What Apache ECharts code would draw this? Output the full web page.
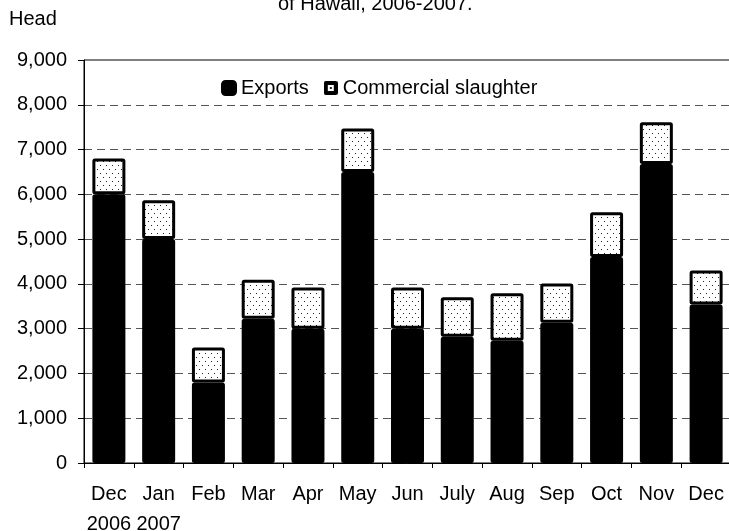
<!DOCTYPE html>
<html>
<head>
<meta charset="utf-8">
<script src="https://cdn.jsdelivr.net/npm/echarts@6/dist/echarts.min.js"></script>
<style>
  html, body { margin: 0; padding: 0; background: #fff; }
  #chart { width: 729px; height: 531px; }
</style>
</head>
<body>
<div id="chart"></div>
<script>
// months Dec 2006 .. Dec 2007
const months = ['Dec\n2006', 'Jan\n2007', 'Feb', 'Mar', 'Apr', 'May', 'Jun', 'July', 'Aug', 'Sep', 'Oct', 'Nov', 'Dec'];
// head of cattle
const exportsHead = [6000, 5000, 1800, 3220, 3000, 6500, 3000, 2820, 2730, 3130, 4600, 6680, 3540];
const slaughterHead = [800, 870, 780, 870, 920, 970, 920, 880, 1060, 880, 1000, 930, 760];
const yTicks = [0, 1000, 2000, 3000, 4000, 5000, 6000, 7000, 8000, 9000];

const FONT = 'Liberation Sans';

// little dotted fill like the old excel pattern
function dotPattern() {
    const c = document.createElement('canvas');
    c.width = 6;
    c.height = 8;
    const ctx = c.getContext('2d');
    ctx.fillStyle = '#fff';
    ctx.fillRect(0, 0, 6, 8);
    ctx.fillStyle = '#222';
    ctx.fillRect(1, 1, 1, 1);
    ctx.fillRect(4, 5, 1, 1);
    return c;
}

// legend swatch: thick black frame, tiny dotted middle
function slaughterIcon() {
    const c = document.createElement('canvas');
    c.width = 14;
    c.height = 14;
    const ctx = c.getContext('2d');
    ctx.fillStyle = '#000';
    ctx.beginPath();
    ctx.moveTo(2, 0); ctx.lineTo(12, 0); ctx.quadraticCurveTo(14, 0, 14, 2);
    ctx.lineTo(14, 12); ctx.quadraticCurveTo(14, 14, 12, 14);
    ctx.lineTo(2, 14); ctx.quadraticCurveTo(0, 14, 0, 12);
    ctx.lineTo(0, 2); ctx.quadraticCurveTo(0, 0, 2, 0);
    ctx.fill();
    ctx.fillStyle = '#fff';
    ctx.fillRect(4, 4, 6, 6);
    ctx.fillStyle = '#222';
    ctx.fillRect(6, 6, 2, 2);
    return c.toDataURL();
}

const chart = echarts.init(document.getElementById('chart'));

// grey dashes for inner lines, none on top (grid border is there)
const splitColors = yTicks.map((v, i) => (i === yTicks.length - 1 ? 'rgba(0,0,0,0)' : '#555'));

const option = {
    animation: false,
    grid: {
        left: 84,
        top: 60,
        width: 647,
        height: 403,
        outerBoundsMode: 'none',
        containLabel: false,
        show: true,
        borderColor: '#000',
        borderWidth: 1,
        backgroundColor: 'transparent'
    },
    graphic: [
        {
            type: 'text',
            left: 278,
            top: -6,
            style: { text: 'of Hawaii, 2006-2007.', font: '20px ' + FONT, fill: '#000' }
        },
        {
            type: 'text',
            left: 9,
            top: 9,
            style: { text: 'Head', font: '20px ' + FONT, fill: '#000' }
        }
    ],
    legend: {
        left: 216,
        top: 73,
        itemWidth: 14,
        itemHeight: 14,
        itemGap: 15,
        icon: 'roundRect',
        textStyle: { fontFamily: FONT, fontSize: 20, color: '#000' },
        data: [
            { name: 'Exports' },
            { name: 'Commercial slaughter', icon: 'image://' + slaughterIcon() }
        ]
    },
    xAxis: {
        type: 'category',
        data: months,
        boundaryGap: true,
        axisLine: { lineStyle: { color: '#000', width: 1 } },
        axisTick: { show: true, length: 5, alignWithLabel: false, lineStyle: { color: '#000' } },
        axisLabel: {
            interval: 0,
            margin: 16,
            fontFamily: FONT,
            fontSize: 20,
            lineHeight: 30,
            color: '#000'
        }
    },
    yAxis: {
        type: 'value',
        min: 0,
        max: 9000,
        interval: 1000,
        axisLine: { show: true, lineStyle: { color: '#000', width: 1 } },
        axisTick: { show: true, length: 6, lineStyle: { color: '#000' } },
        axisLabel: {
            margin: 17,
            fontFamily: FONT,
            fontSize: 20,
            color: '#000',
            formatter: (v) => v.toLocaleString('en-US')
        },
        splitLine: {
            show: true,
            lineStyle: { color: splitColors, type: [8, 5], width: 1 }
        }
    },
    series: [
        {
            name: 'Exports',
            type: 'bar',
            stack: 'total',
            barWidth: 33,
            data: exportsHead,
            itemStyle: { color: '#000', borderColor: '#000', borderWidth: 3, borderRadius: 1 }
        },
        {
            name: 'Commercial slaughter',
            type: 'bar',
            stack: 'total',
            barWidth: 33,
            data: slaughterHead,
            itemStyle: {
                color: { image: dotPattern(), repeat: 'repeat' },
                borderColor: '#000',
                borderWidth: 3,
                borderRadius: 1
            }
        }
    ]
};

chart.setOption(option);
</script>
</body>
</html>
